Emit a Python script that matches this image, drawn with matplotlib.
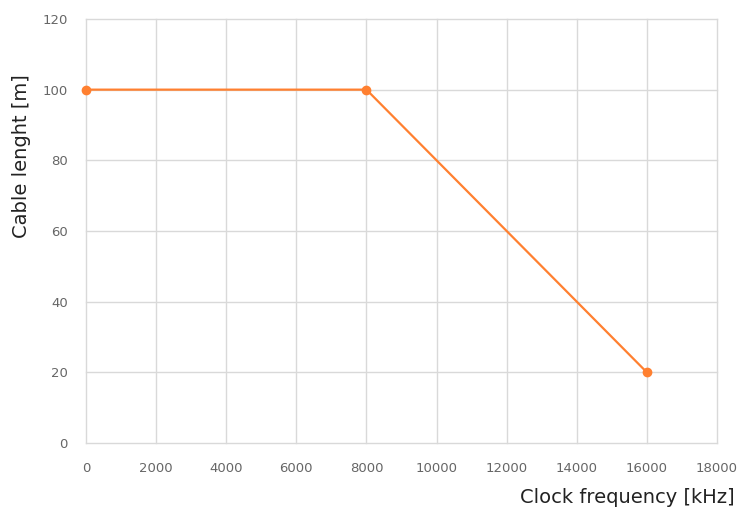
import matplotlib.pyplot as plt

# Data
freq_khz = [0, 8000, 16000]
cable_len_m = [100, 100, 20]
x_ticks = [0, 2000, 4000, 6000, 8000, 10000, 12000, 14000, 16000, 18000]
y_ticks = [0, 20, 40, 60, 80, 100, 120]

fig = plt.figure(figsize=(7.52, 5.13), dpi=100)
ax = fig.add_axes([0.1144, 0.1365, 0.839, 0.8265])

ax.plot(freq_khz, cable_len_m, '-o', color='#FF8030', linewidth=1.6,
        markersize=6, zorder=3, clip_on=False)

ax.set_xlim(0, 18000)
ax.set_ylim(0, 120)
ax.set_xticks(x_ticks)
ax.set_yticks(y_ticks)
ax.grid(color='#d9d9d9', linewidth=1)
for gl in ax.get_xgridlines() + ax.get_ygridlines():
    gl.set_clip_on(False)
ax.set_axisbelow(True)
for s in ax.spines.values():
    s.set_visible(False)
ax.tick_params(length=0, labelsize=9.5, labelcolor='#666666')
ax.tick_params(axis='x', pad=14)
ax.tick_params(axis='y', pad=13)

# Axis labels
fig.text(0.029, 0.696, 'Cable lenght [m]', rotation=90, fontsize=14,
         ha='center', va='center', color='#222222')
fig.text(0.977, 0.031, 'Clock frequency [kHz]', fontsize=14,
         ha='right', va='center', color='#222222')

fig.savefig('out.png', dpi=100)
